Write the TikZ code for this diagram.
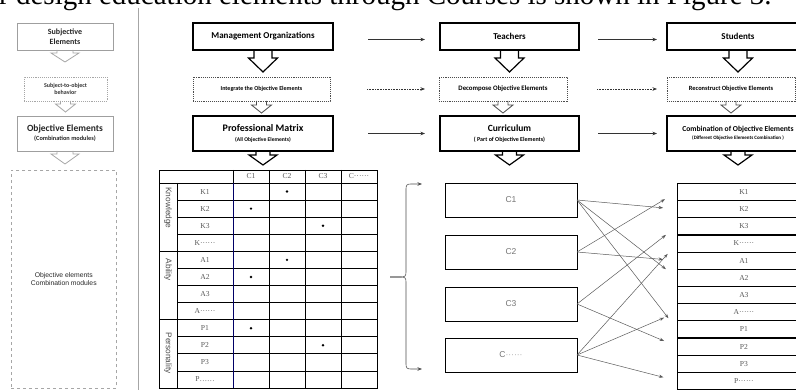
\documentclass[tikz,border=0pt]{standalone}
\usepackage{fontspec}
\setmainfont{Carlito}
\newfontfamily\serifT{Liberation Serif}
\newfontfamily\arialT{Liberation Sans}
\usetikzlibrary{arrows.meta,calc}
\newcommand\harrow[6]{%
  \draw[#6] ($(#1.south)+(-#2,0)$) -- ++(0,#4) -- ++(#2-#3,0) -- ++(#3,#5) -- ++(#3,-#5) -- ++(#2-#3,0) -- ++(0,-#4);}
\begin{document}
\begin{tikzpicture}[x=1pt,y=-1pt,
  mainbox/.style={draw=black,line width=1.3pt,fill=white,align=center,inner sep=1pt,anchor=north west,outer sep=0pt},
  dotbox/.style={draw=gray!60!black,densely dotted,line width=0.9pt,align=center,inner sep=1pt,anchor=north west,outer sep=0pt},
  graybox/.style={draw=gray!75,line width=0.8pt,align=center,inner sep=1pt,anchor=north west,outer sep=0pt,text=black!85},
  bigarr/.style={draw=black,line width=1.2pt,line join=miter},
  grayarr/.style={draw=gray!70,line width=0.8pt,line join=miter},
  harr/.style={draw=black!80,line width=0.6pt,-{Stealth[length=4.5pt,width=3.5pt]}},
  cross/.style={draw=black!65,line width=0.5pt,-{Stealth[length=4.5pt,width=3.2pt]},shorten >=14pt},
  tcell/.style={font=\serifT\fontsize{7.6}{8}\selectfont,text=black!65,inner sep=0pt},
  lcell/.style={draw=black,line width=0.8pt,minimum width=133pt,minimum height=17.17pt,inner sep=0pt,anchor=north west,font=\serifT\fontsize{7.6}{8}\selectfont,text=black!65},
  cbox/.style={draw=black,line width=0.9pt,minimum width=132pt,minimum height=34pt,anchor=north west,font=\arialT\fontsize{8.5}{9}\selectfont,text=black!55,outer sep=0pt},
  grp/.style={font=\arialT\fontsize{8.3}{9}\selectfont,text=black!70,rotate=-90,inner sep=0pt}
]
\useasboundingbox (0,0) rectangle (796,390);
\clip (0,0) rectangle (796,390);

% top caption line (cut off)
\node[anchor=base west,inner sep=0pt,font=\serifT\fontsize{29}{29}\selectfont] (cap) at (-1,5) {r design education elements through Courses is shown in Figure 3.};

% separator
\draw[gray!70,line width=0.7pt] (138,8) -- (138,390);

% left column
\node[graybox,minimum width=96pt,minimum height=27pt,font=\fontsize{8}{9.5}\selectfont\bfseries] (subj) at (17,23) {Subjective\\Elements};
\node[dotbox,draw=gray!70,minimum width=83pt,minimum height=24pt,font=\fontsize{6}{7.5}\selectfont\bfseries,text=black!80] (sto) at (24,77) {Subject-to-object\\behavior};
\node[graybox,minimum width=96pt,minimum height=35pt,font=\fontsize{9.5}{10}\selectfont\bfseries] (obj) at (17,116) {Objective Elements\\[-1pt]{\fontsize{6.3}{7}\selectfont (Combination modules)}};
\node[draw=gray!70,dashed,line width=0.6pt,minimum width=105pt,minimum height=218pt,anchor=north west,align=center,font=\arialT\fontsize{6.8}{8.5}\selectfont,text=black!85] (mods) at (11,170) {Objective elements\\Combination modules};
\harrow{subj}{8}{14}{3}{9}{grayarr}
\harrow{sto}{5}{10}{3}{8}{grayarr}
\harrow{obj}{8}{14}{3}{10}{grayarr}

% main columns
\node[mainbox,minimum width=140pt,minimum height=27pt,font=\fontsize{9}{10}\selectfont\bfseries] (mgmt) at (193,23) {Management Organizations};
\node[mainbox,minimum width=139pt,minimum height=27pt,font=\fontsize{9}{10}\selectfont\bfseries] (teach) at (440,23) {Teachers};
\node[mainbox,minimum width=142pt,minimum height=27pt,font=\fontsize{9}{10}\selectfont\bfseries] (stud) at (667,23) {Students};

\node[dotbox,minimum width=137pt,minimum height=24pt,font=\fontsize{6}{7}\selectfont\bfseries] (integ) at (193,77) {Integrate the Objective Elements};
\node[dotbox,minimum width=128pt,minimum height=24pt,font=\fontsize{6.8}{7}\selectfont\bfseries] (decomp) at (439,77) {Decompose Objective Elements};
\node[dotbox,minimum width=128pt,minimum height=24pt,font=\fontsize{6.4}{7}\selectfont\bfseries] (recon) at (667,77) {Reconstruct Objective Elements};

\node[mainbox,minimum width=140pt,minimum height=35pt,font=\fontsize{10}{11}\selectfont\bfseries] (prof) at (193,116) {Professional Matrix\\[-1pt]{\fontsize{5.6}{6.5}\selectfont (All Objective Elements)}};
\node[mainbox,minimum width=139pt,minimum height=35pt,font=\fontsize{9.5}{11}\selectfont\bfseries] (curr) at (440,116) {Curriculum\\[-1pt]{\fontsize{6}{7}\selectfont ( Part of Objective Elements)}};
\node[mainbox,minimum width=142pt,minimum height=35pt,font=\fontsize{7.6}{9}\selectfont\bfseries] (comb) at (667,116) {Combination of Objective Elements\\[-1pt]{\fontsize{5}{6}\selectfont (Different Objective Elements Combination )}};

\harrow{mgmt}{9}{14.5}{8}{14}{bigarr}
\harrow{teach}{9}{14.5}{8}{14}{bigarr}
\harrow{stud}{9}{14.5}{8}{14}{bigarr}
\harrow{integ}{5}{10}{4}{8}{grayarr,draw=black!70}
\harrow{decomp}{5}{10}{4}{8}{grayarr,draw=black!70}
\harrow{recon}{5}{10}{4}{8}{grayarr,draw=black!70}
\harrow{prof}{7}{14}{4}{10}{bigarr}
\harrow{curr}{7}{14}{4}{10}{bigarr}
\harrow{comb}{7}{14}{4}{10}{bigarr}

% horizontal arrows
\draw[harr,shorten <=35pt,shorten >=15pt] ([yshift=-3pt]mgmt.east) -- ([yshift=-3pt]teach.west);
\draw[harr,shorten <=19pt,shorten >=10pt] ([yshift=-3pt]teach.east) -- ([yshift=-3pt]stud.west);
\draw[harr,densely dotted,shorten <=37pt,shorten >=14pt] (integ.east) -- (decomp.west);
\draw[harr,densely dotted,shorten <=30pt,shorten >=10pt] (decomp.east) -- (recon.west);
\draw[harr,shorten <=35pt,shorten >=15pt] (prof.east) -- (curr.west);
\draw[harr,shorten <=19pt,shorten >=10pt] (curr.east) -- (comb.west);

% table
\begin{scope}[line width=0.8pt]
\draw (159,170) rectangle (377,388);
\draw (159,183) -- (377,183);
\draw (177,183) -- (177,388);
\foreach \x in {233,269,305,341} \draw (\x,170) -- (\x,388);
\foreach \i in {1,...,11} {\pgfmathsetmacro\yy{183+\i*205/12}\draw (177,\yy) -- (377,\yy);}
\draw (159,{183+4*205/12}) -- (177,{183+4*205/12});
\draw (159,{183+8*205/12}) -- (177,{183+8*205/12});
\draw[draw=blue!40!black] (233,183) -- (233,388);
\end{scope}
\foreach \lab [count=\j] in {C1,C2,C3,C······}
  \node[tcell] (h\j) at ({233+(\j-0.5)*36},176.5) {\lab};
\foreach \lab [count=\i] in {K1,K2,K3,K······,A1,A2,A3,A······,P1,P2,P3,P……}
  \node[tcell] (t\i) at (205,{183+(\i-0.5)*205/12}) {\lab};
\foreach \c/\r in {2/1,1/2,3/3,2/5,1/6,1/9,3/10}
  \fill ({233+(\c-0.5)*36},{183+(\r-0.5)*205/12}) circle (1.3);
\node[grp] (gk) at (168,208) {Knowledge};
\node[grp] (ga) at (168,270) {Ability};
\node[grp] (gp) at (168,353) {Personality};

% brace
\coordinate (bm) at (390,277);
\coordinate (bt) at (422,184);
\coordinate (bb) at (422,369);
\draw[harr,draw=black!70] (bm) -- (401,277) .. controls (405,277) and (406,276) .. (406,272) -- (406,189) .. controls (406,185) and (407,184) .. (411,184) -- (bt);
\draw[harr,draw=black!70] (bm) -- (401,277) .. controls (405,277) and (406,278) .. (406,282) -- (406,364) .. controls (406,368) and (407,369) .. (411,369) -- (bb);

% C boxes
\node[cbox] (c1) at (445,183) {C1};
\node[cbox] (c2) at (445,235) {C2};
\node[cbox] (c3) at (445,287) {C3};
\node[cbox] (c4) at (445,338) {C{\color{black!35}······}};

% right list
\foreach \lab/\nm [count=\i] in {K1/k1,K2/k2,K3/k3,K······/k4,A1/a1,A2/a2,A3/a3,A······/a4,P1/p1,P2/p2,P3/p3,P······/p4}
  \node[lcell] (\nm) at (677,{183+(\i-1)*206/12}) {\lab};

% crossing arrows
\foreach \s/\t in {c1/k2,c1/a2,c1/p1,c2/k1,c2/a1,c3/k3,c3/p2,c4/k4,c4/a4,c4/p4}
  \draw[cross] (\s.east) -- (\t.west);
\end{tikzpicture}
\end{document}
